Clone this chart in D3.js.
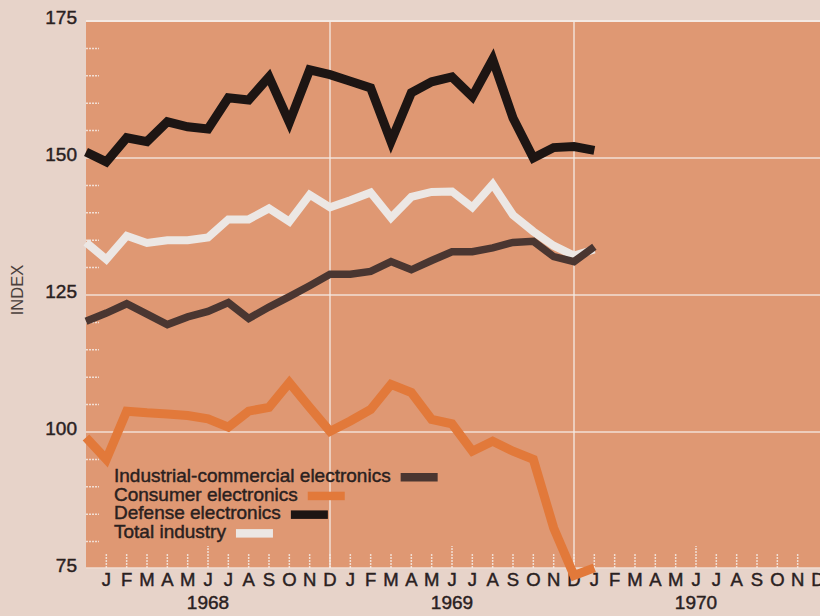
<!DOCTYPE html>
<html>
<head>
<meta charset="utf-8">
<script src="https://cdn.jsdelivr.net/npm/d3@7/dist/d3.min.js"></script>
<style>
  html, body { margin: 0; padding: 0; background: #e7d3c9; }
  svg { display: block; }
  text { font-family: "Liberation Sans", Arial, sans-serif; }
  .heavy { stroke: #2a211f; stroke-width: 0.45px; }
</style>
</head>
<body>
<svg id="chart" width="820" height="616"></svg>
<script>
// ---- data (monthly index, Dec 1967 .. Jan 1970) ----
const monthLetters = ["J","F","M","A","M","J","J","A","S","O","N","D"];
const years = ["1968","1969","1970"];
const yTickValues = [75, 100, 125, 150, 175];

const industrial = [120.2,121.7,123.4,121.5,119.6,121.0,122.0,123.6,120.7,122.8,124.7,126.7,
                    128.8,128.8,129.3,131.1,129.6,131.3,132.9,132.9,133.6,134.6,134.8,132.0,131.1,133.8];
const consumer   = [99.0,95.0,103.8,103.5,103.3,103.0,102.4,100.9,103.8,104.5,109.0,104.5,
                    100.1,102.0,104.1,108.7,107.2,102.3,101.5,96.5,98.3,96.5,95.0,82.5,73.8,75.2];
const defense    = [151.1,149.3,153.7,153.0,156.6,155.7,155.3,161.0,160.6,164.8,156.5,166.1,
                    165.2,164.0,162.8,153.0,161.9,163.9,164.8,161.2,168.0,157.3,150.0,151.9,152.1,151.4];
const total      = [134.6,131.5,135.8,134.5,135.0,135.0,135.5,138.8,138.8,140.8,138.4,143.3,
                    141.0,142.3,143.7,139.1,142.9,143.8,143.9,141.0,145.2,139.6,136.6,134.0,132.2,133.3];

const seriesNames = ["Industrial-commercial electronics","Consumer electronics","Defense electronics","Total industry"];
const seriesColors = ["#4a3631","#e2793a","#1d1513","#ece7e4"];

// ---- layout ----
const svg = d3.select("#chart");
const plot = { left: 86, right: 820, top: 21, bottom: 568 };
const x = d3.scaleLinear().domain([0, 24]).range([86, 574]);
const y = d3.scaleLinear().domain([75, 175]).range([569, 21]);

const textColor = "#2a211f";

// plot background
svg.append("rect")
  .attr("x", plot.left).attr("y", plot.top)
  .attr("width", plot.right - plot.left).attr("height", plot.bottom - plot.top)
  .attr("fill", "#df9873");

// top / bottom border lines
svg.append("line")
  .attr("x1", plot.left).attr("x2", plot.right)
  .attr("y1", plot.top).attr("y2", plot.top)
  .attr("stroke", "#f4e9e3").attr("stroke-width", 2);
svg.append("line")
  .attr("x1", plot.left).attr("x2", plot.right)
  .attr("y1", plot.bottom).attr("y2", plot.bottom)
  .attr("stroke", "#efdcd2").attr("stroke-width", 1.5);

// horizontal gridlines
svg.append("g").selectAll("line")
  .data([100, 125, 150])
  .join("line")
  .attr("x1", plot.left).attr("x2", plot.right)
  .attr("y1", d => y(d)).attr("y2", d => y(d))
  .attr("stroke", "#f6ece6").attr("stroke-width", 1.5).attr("opacity", 0.85);

// vertical gridlines at Dec 1968, Dec 1969
svg.append("g").selectAll("line")
  .data([12, 24])
  .join("line")
  .attr("x1", d => x(d)).attr("x2", d => x(d))
  .attr("y1", plot.top).attr("y2", plot.bottom)
  .attr("stroke", "#f6ece6").attr("stroke-width", 1.5).attr("opacity", 0.85);

// minor y ticks (every 5)
const minorY = d3.range(80, 175, 5).filter(v => v % 25 !== 0);
svg.append("g").selectAll("line")
  .data(minorY)
  .join("line")
  .attr("x1", plot.left).attr("x2", plot.left + 13)
  .attr("y1", d => y(d)).attr("y2", d => y(d))
  .attr("stroke", "#f6ece6").attr("stroke-width", 1.5)
  .attr("stroke-dasharray", "2,1").attr("opacity", 0.85);

// month ticks
const monthTicks = d3.range(1, 36);
svg.append("g").selectAll("line")
  .data(monthTicks)
  .join("line")
  .attr("x1", d => x(d)).attr("x2", d => x(d))
  .attr("y1", plot.bottom)
  .attr("y2", d => ((d - 6) % 12 === 0) ? plot.bottom - 22 : plot.bottom - 14)
  .attr("stroke", "#f6ece6").attr("stroke-width", 1.5)
  .attr("stroke-dasharray", "2,1").attr("opacity", 0.85);

// y-axis labels
svg.append("g").selectAll("text")
  .data(yTickValues)
  .join("text")
  .attr("class", "heavy")
  .attr("x", 77).attr("y", d => y(d) + 3)
  .attr("text-anchor", "end")
  .attr("font-size", 19)
  .attr("fill", textColor)
  .text(d => d);

// INDEX label
svg.append("text")
  .attr("transform", "translate(23,290) rotate(-90)")
  .attr("text-anchor", "middle")
  .attr("font-size", 16.5)
  .attr("fill", "#4a3f3c")
  .text("INDEX");

// month letters
const monthLabelData = d3.range(1, 37).map(i => ({ i, t: monthLetters[(i - 1) % 12] }));
svg.append("g").selectAll("text")
  .data(monthLabelData)
  .join("text")
  .attr("class", "heavy")
  .attr("x", d => x(d.i)).attr("y", 586)
  .attr("text-anchor", "middle")
  .attr("font-size", 18.5)
  .attr("fill", textColor)
  .text(d => d.t);

// year labels (centred under June)
svg.append("g").selectAll("text")
  .data(years)
  .join("text")
  .attr("class", "heavy")
  .attr("x", (d, k) => x(6 + 12 * k)).attr("y", 609)
  .attr("text-anchor", "middle")
  .attr("font-size", 19)
  .attr("fill", textColor)
  .text(d => d);

// ---- lines ----
const line = d3.line().x((d, i) => x(i)).y(d => y(d)).curve(d3.curveLinear);
const lineDefs = [
  { data: total, color: seriesColors[3], w: 8 },
  { data: industrial, color: seriesColors[0], w: 7.5 },
  { data: consumer, color: seriesColors[1], w: 9 },
  { data: defense, color: seriesColors[2], w: 9 }
];
svg.append("g").selectAll("path")
  .data(lineDefs)
  .join("path")
  .attr("d", d => line(d.data))
  .attr("fill", "none")
  .attr("stroke", d => d.color)
  .attr("stroke-width", d => d.w)
  .attr("stroke-linejoin", "miter")
  .attr("stroke-miterlimit", 3);

// ---- legend ----
const legend = svg.append("g");
const legendX = 114, legendY0 = 482, legendDy = 18.7;
seriesNames.forEach((name, k) => {
  const t = legend.append("text")
    .attr("class", "heavy")
    .attr("x", legendX).attr("y", legendY0 + k * legendDy)
    .attr("font-size", 19)
    .attr("fill", textColor)
    .text(name);
  const w = t.node().getComputedTextLength();
  legend.append("rect")
    .attr("x", legendX + w + 10)
    .attr("y", legendY0 + k * legendDy - 9)
    .attr("width", 37).attr("height", 8.5)
    .attr("fill", seriesColors[k]);
});
</script>
</body>
</html>
